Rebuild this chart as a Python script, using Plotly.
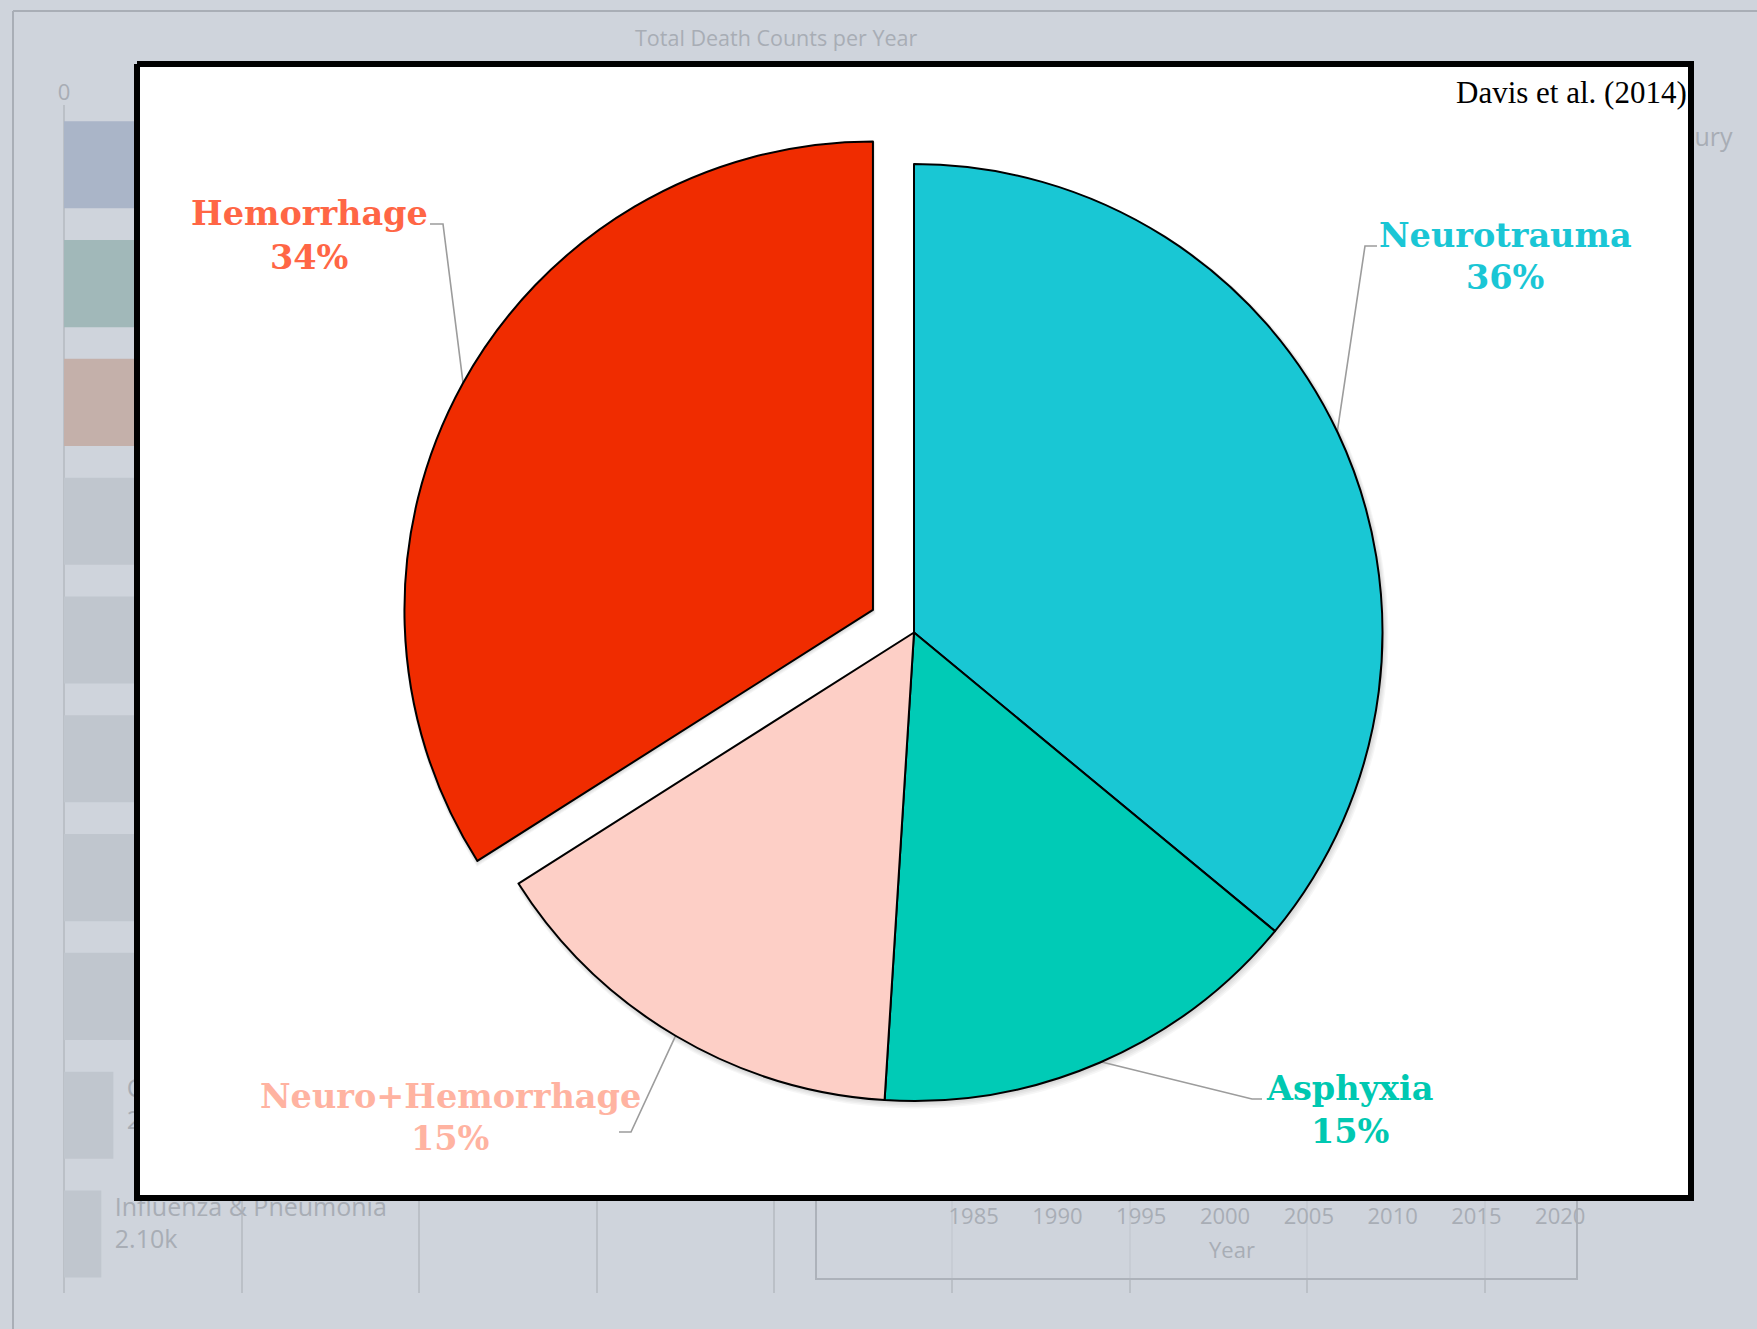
import math
import plotly.graph_objects as go

# ---------------- data ----------------
SLICE_LABELS = ["Neurotrauma", "Asphyxia", "Neuro+Hemorrhage", "Hemorrhage"]
SLICE_VALUES = [36, 15, 15, 34]
SLICE_PULL = [0.0, 0.0, 0.0, 0.1]
SOURCE_NOTE = "Davis et al. (2014)"

# faded dashboard behind the pop-up (estimated; mostly hidden)
BG_CAUSES = ["Unintentional Injury", "Suicide", "Homicide", "Malignant Neoplasms",
             "Heart Disease", "Congenital Anomalies", "Chronic Low. Respiratory Disease",
             "Diabetes Mellitus", "Cerebrovascular", "Influenza & Pneumonia"]
BG_DEATHS = [80100, 41500, 26300, 17200, 12800, 6300, 5100, 4200, 2780, 2100]
BG_LABEL_SHOWN = [True, False, False, False, False, False, False, False, True, True]
BG_X_TICKS = [0, 10000, 20000, 30000, 40000, 50000, 60000, 70000, 80000]
BG_X_TICKTEXT = ["0", "", "", "", "", "", "", "", ""]
BG_TITLE = "Total Death Counts per Year"
YEAR_TICKS = [1985, 1990, 1995, 2000, 2005, 2010, 2015, 2020]
YEAR_TITLE = "Year"

# ---------------- layout / style ----------------
W, H = 1757, 1329
BG = "#cfd4dc"
BG_TEXT = "#a8adb5"
BG_GRID = "#bbc0c7"
BG_BAR_COLORS = ["#aab5c8", "#a1b8b9", "#c4b0aa"] + ["#c0c6ce"] * 7
SLICE_COLORS = ["#19c7d4", "#00cbb6", "#fdcfc6", "#f02c00"]
LABEL_COLORS = ["#1ac6d5", "#00c8b1", "#ffb3a1", "#ff6645"]
LABEL_FONT = "DejaVu Serif"
LABEL_SIZE = 33.5

PIE_CX, PIE_CY, PIE_R = 914.0, 632.5, 468.5
SHADOW_STEPS = 5
SHADOW_ALPHA = 0.035
BOX = dict(x0=134, y0=61, x1=1694, y1=1201, border=6)
FRAME = dict(x0=816, y0=1150, x1=1577, y1=1279)
BAR_PLOT = dict(x0=64, x1=1577, y0=105.4, y1=1293.4)
BAR_AXIS_MAX = 85190
BAR_TEXT_LIFT = 0.07          # category units the bar captions sit above bar centre
YEAR_PLOT = dict(x0=887, x1=1577, y0=900, y1=1201)
YEAR_RANGE = [1979.83, 2021.0]

# label placement (pixels): centre x, name line y, percent line y, leader elbow, leader end
LABEL_LAYOUT = {
    "Neurotrauma": dict(x=1505, y1=235, y2=277, elbow=(1365, 246), end=(1377, 246)),
    "Asphyxia": dict(x=1350, y1=1088, y2=1131, elbow=(1252, 1099), end=(1262, 1099)),
    "Neuro+Hemorrhage": dict(x=450, y1=1096, y2=1138, elbow=(631, 1132), end=(619, 1132)),
    "Hemorrhage": dict(x=309, y1=213, y2=257, elbow=(443, 224), end=(430, 224)),
}


def px(x):
    return x / W


def py(y):
    return 1 - y / H


def fmt_k(v):
    return f"{v / 1000:.2f}k" if v < 10000 else f"{v / 1000:.1f}k"


fig = go.Figure()

# ---- faded background bar chart (subplot xy)
bar_pos = list(range(len(BG_CAUSES)))
fig.add_trace(go.Bar(
    x=BG_DEATHS, y=bar_pos, orientation="h",
    marker=dict(color=BG_BAR_COLORS, line=dict(width=0)),
    hoverinfo="skip", xaxis="x", yaxis="y",
))
fig.add_trace(go.Scatter(
    x=BG_DEATHS, y=[p - BAR_TEXT_LIFT for p in bar_pos], mode="markers+text",
    marker=dict(size=20, color="rgba(0,0,0,0)"),
    text=[f"{c}<br>{fmt_k(v)}" if s else "" for c, v, s in zip(BG_CAUSES, BG_DEATHS, BG_LABEL_SHOWN)],
    textposition="middle right", cliponaxis=False,
    textfont=dict(family="Open Sans", size=25, color=BG_TEXT),
    hoverinfo="skip", xaxis="x", yaxis="y",
))

# ---- pixel-space overlay subplot (x2y2): frame, white pop-up box, shadow, leader lines
fig.add_trace(go.Scatter(
    x=[FRAME["x0"], FRAME["x1"], FRAME["x1"], FRAME["x0"], FRAME["x0"]],
    y=[FRAME["y0"], FRAME["y0"], FRAME["y1"], FRAME["y1"], FRAME["y0"]],
    mode="lines", fill="toself", fillcolor="rgba(207,212,220,0.6)",
    line=dict(color="#adb2ba", width=2), hoverinfo="skip", xaxis="x2", yaxis="y2",
))
b = BOX["border"] / 2
fig.add_trace(go.Scatter(
    x=[BOX["x0"] + b, BOX["x1"] - b, BOX["x1"] - b, BOX["x0"] + b, BOX["x0"] + b],
    y=[BOX["y0"] + b, BOX["y0"] + b, BOX["y1"] - b, BOX["y1"] - b, BOX["y0"] + b],
    mode="lines", fill="toself", fillcolor="white",
    line=dict(color="black", width=BOX["border"]), hoverinfo="skip",
    xaxis="x2", yaxis="y2",
))

total = sum(SLICE_VALUES)
geo = []
cum = 0.0
for lab, val, pull in zip(SLICE_LABELS, SLICE_VALUES, SLICE_PULL):
    a0 = cum / total * 2 * math.pi
    cum += val
    a1 = cum / total * 2 * math.pi
    mid = (a0 + a1) / 2
    ox = PIE_CX + pull * PIE_R * math.sin(mid)
    oy = PIE_CY - pull * PIE_R * math.cos(mid)
    geo.append((lab, val, a0, a1, mid, ox, oy))

# soft drop shadow under the slices (drawn beneath the pie layer)
for k in range(1, SHADOW_STEPS + 1):
    for lab, val, a0, a1, mid, ox, oy in geo:
        cx, cy, r = ox + 0.5 * k, oy + 0.8 * k, PIE_R + 0.7 * k
        n = max(8, int((a1 - a0) * 60))
        angs = [a0 + (a1 - a0) * i / n for i in range(n + 1)]
        xs = [cx] + [cx + r * math.sin(a) for a in angs] + [cx]
        ys = [cy] + [cy - r * math.cos(a) for a in angs] + [cy]
        fig.add_trace(go.Scatter(
            x=xs, y=ys, mode="lines", fill="toself",
            fillcolor=f"rgba(0,0,0,{SHADOW_ALPHA})", line=dict(width=0),
            hoverinfo="skip", xaxis="x2", yaxis="y2",
        ))

annotations = []
for (lab, val, a0, a1, mid, ox, oy), col in zip(geo, LABEL_COLORS):
    ex = ox + (PIE_R - 1) * math.sin(mid)
    ey = oy - (PIE_R - 1) * math.cos(mid)
    L = LABEL_LAYOUT[lab]
    fig.add_trace(go.Scatter(
        x=[ex, L["elbow"][0], L["end"][0]], y=[ey, L["elbow"][1], L["end"][1]],
        mode="lines", line=dict(color="#9c9c9c", width=1.6),
        hoverinfo="skip", xaxis="x2", yaxis="y2",
    ))
    for text, yy in ((lab, L["y1"]), (f"{round(100 * val / total)}%", L["y2"])):
        annotations.append(dict(
            x=L["x"], y=yy, xref="x2", yref="y2", text=text, showarrow=False,
            xanchor="center", yanchor="middle",
            font=dict(family=LABEL_FONT, size=LABEL_SIZE, color=col, weight="bold"),
        ))

annotations.append(dict(
    x=1689, y=92, xref="x2", yref="y2", text=SOURCE_NOTE, showarrow=False,
    xanchor="right", yanchor="middle",
    font=dict(family="Liberation Serif", size=31, color="black"),
))
annotations.append(dict(
    x=776, y=37, xref="x2", yref="y2", text=BG_TITLE, showarrow=False,
    xanchor="center", yanchor="middle",
    font=dict(family="Open Sans", size=21.5, color=BG_TEXT),
))

# ---- year axis of the background line chart (x3y3, no visible traces)
fig.add_trace(go.Scatter(x=[], y=[], xaxis="x3", yaxis="y3", hoverinfo="skip"))

# ---- the pie
half = PIE_R * (1 + max(SLICE_PULL))
fig.add_trace(go.Pie(
    labels=SLICE_LABELS, values=SLICE_VALUES, pull=SLICE_PULL,
    sort=False, direction="clockwise", rotation=0,
    marker=dict(colors=SLICE_COLORS, line=dict(color="black", width=2)),
    textinfo="none", hoverinfo="label+percent", showlegend=False,
    domain=dict(x=[px(PIE_CX - half), px(PIE_CX + half)],
                y=[py(PIE_CY + half), py(PIE_CY - half)]),
))

fig.update_layout(
    template="none",
    width=W, height=H,
    margin=dict(l=0, r=0, t=0, b=0),
    paper_bgcolor=BG, plot_bgcolor="rgba(0,0,0,0)",
    showlegend=False, bargap=0.267,
    annotations=annotations,
    shapes=[
        dict(type="line", xref="paper", yref="paper", x0=px(13), x1=1, y0=py(11), y1=py(11),
             line=dict(color="#a9aeb6", width=2), layer="below"),
        dict(type="line", xref="paper", yref="paper", x0=px(13), x1=px(13), y0=py(11), y1=0,
             line=dict(color="#a9aeb6", width=2), layer="below"),
    ],
    xaxis=dict(domain=[px(BAR_PLOT["x0"]), px(BAR_PLOT["x1"])], range=[0, BAR_AXIS_MAX],
               side="top", anchor="y", showgrid=True, gridcolor=BG_GRID, gridwidth=1.5,
               zeroline=True, zerolinecolor=BG_GRID, zerolinewidth=1.5, showline=False,
               ticks="", tickvals=BG_X_TICKS, ticktext=BG_X_TICKTEXT, automargin=False,
               tickfont=dict(family="Open Sans", size=22, color=BG_TEXT), fixedrange=True),
    yaxis=dict(domain=[py(BAR_PLOT["y1"]), py(BAR_PLOT["y0"])], anchor="x",
               range=[len(BG_CAUSES) - 0.5, -0.5], showticklabels=False, showgrid=False,
               zeroline=False, showline=False, ticks="", automargin=False, fixedrange=True),
    xaxis2=dict(domain=[0, 1], range=[0, W], anchor="y2", visible=False, fixedrange=True),
    yaxis2=dict(domain=[0, 1], range=[H, 0], anchor="x2", visible=False, fixedrange=True),
    xaxis3=dict(domain=[px(YEAR_PLOT["x0"]), px(YEAR_PLOT["x1"])], range=YEAR_RANGE,
                anchor="y3", tickvals=YEAR_TICKS, showgrid=False, zeroline=False,
                showline=False, ticks="", automargin=False,
                tickfont=dict(family="Open Sans", size=22, color=BG_TEXT),
                title=dict(text=YEAR_TITLE, standoff=13,
                           font=dict(family="Open Sans", size=22, color=BG_TEXT)),
                fixedrange=True),
    yaxis3=dict(domain=[py(YEAR_PLOT["y1"]), py(YEAR_PLOT["y0"])], anchor="x3",
                visible=False, range=[0, 1], fixedrange=True),
)

fig.write_html("out.html", config={"displayModeBar": False},
               post_script="document.body.style.margin='0px';document.body.style.overflow='hidden';")
